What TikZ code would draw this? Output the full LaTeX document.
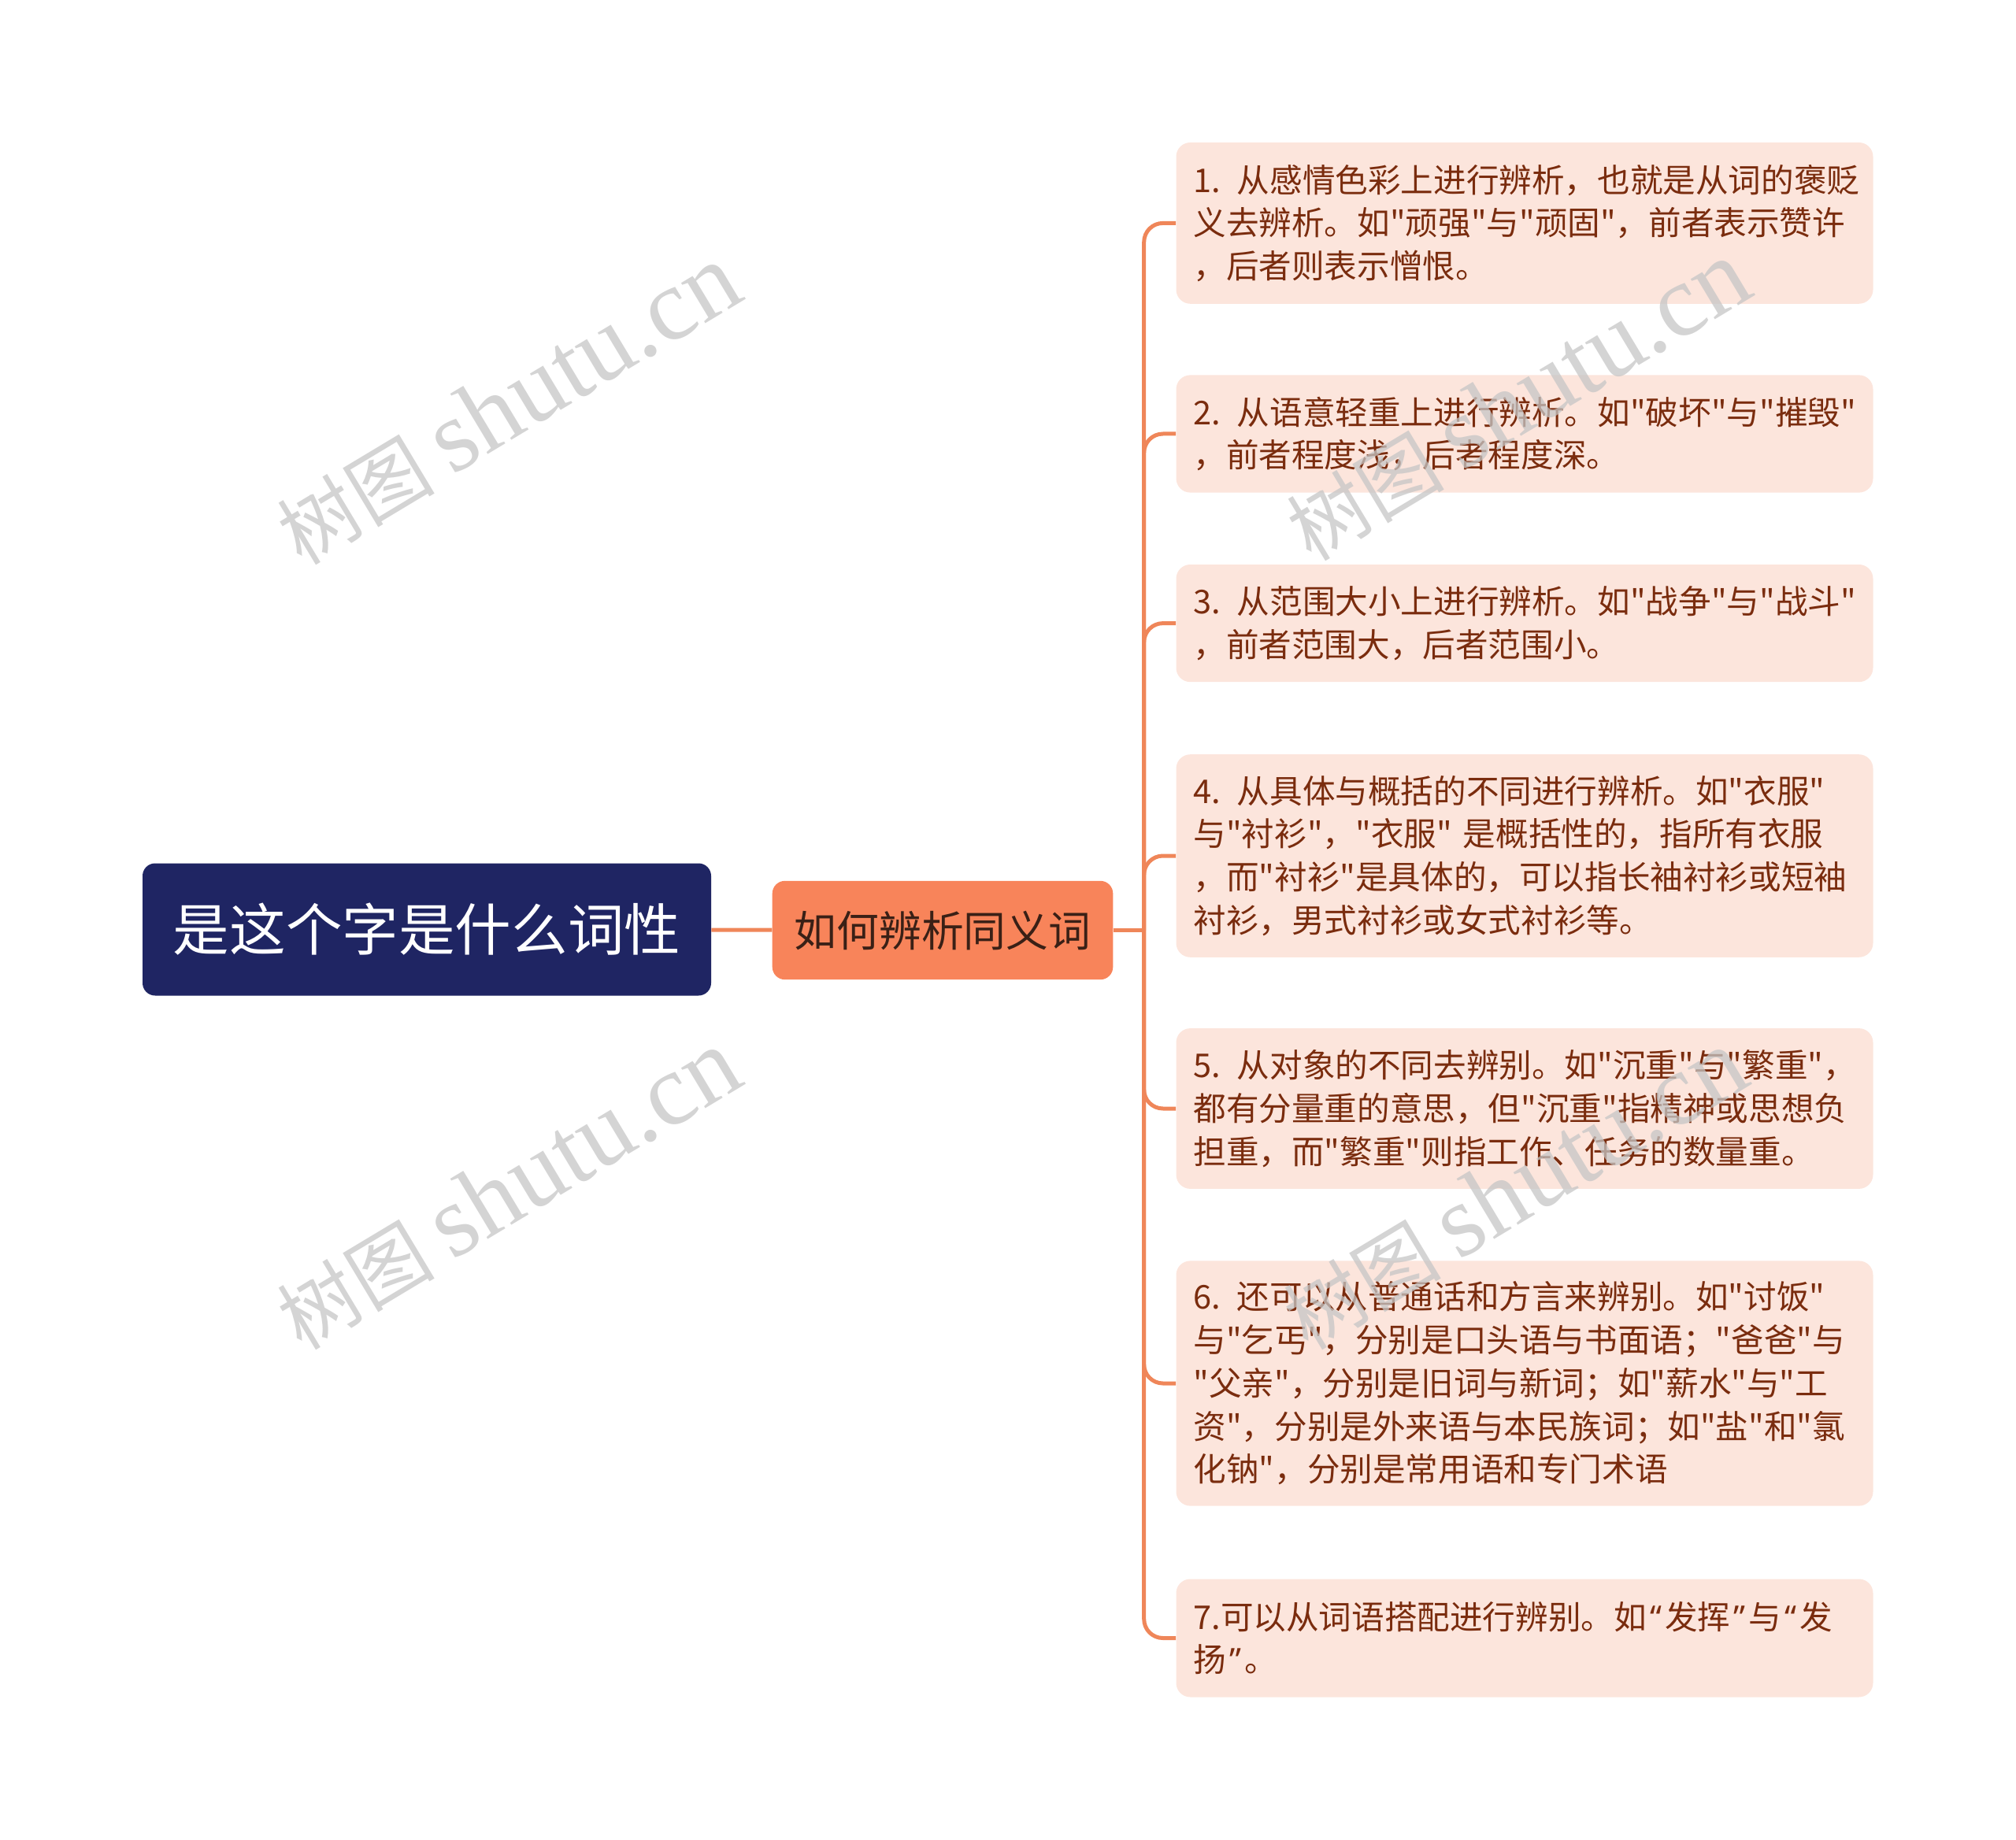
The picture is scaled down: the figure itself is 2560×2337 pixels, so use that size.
\documentclass[tikz,border=0pt]{standalone}
\usepackage{fontspec}
\newfontfamily\cjk{Noto Sans CJK SC}
\newfontfamily\lat{Noto Sans}
\newfontfamily\wmfont{Liberation Serif}
\usetikzlibrary{calc}
\definecolor{rootblue}{HTML}{1F2563}
\definecolor{topicorange}{HTML}{F8845A}
\definecolor{topictext}{HTML}{3A2016}
\definecolor{leaffill}{HTML}{FCE5DC}
\definecolor{leaftext}{HTML}{7A2C0E}
\definecolor{linecolor}{HTML}{EF8659}
\newcommand{\oq}{\hspace{0.1em}{\lat “}\hspace{0.1em}}
\newcommand{\cq}{\hspace{0.1em}{\lat ”}\hspace{0.1em}}
\tikzstyle{root} = [rectangle, rounded corners=8pt, fill=rootblue, text=white,
    minimum width=361pt, minimum height=84pt, font=\cjk\fontsize{35.8}{40}\selectfont]
\tikzstyle{topic} = [rectangle, rounded corners=8pt, fill=topicorange, text=topictext,
    minimum width=216.3pt, minimum height=62.7pt, font=\cjk\fontsize{26.9}{30}\selectfont]
\tikzstyle{leaf} = [rectangle, rounded corners=9pt, fill=leaffill, text=leaftext,
    text width=420.5pt, inner xsep=11pt, minimum width=442.5pt, align=left,
    font=\cjk\fontsize{20.8}{27.35}\selectfont]
\tikzstyle{line} = [draw, color=linecolor, line width=2.5pt]
\tikzstyle{wmark} = [text=gray!45, opacity=0.75, rotate=31, font=\cjk\fontsize{50}{60}\selectfont]

\begin{document}
\begin{tikzpicture}[x=0.5pt,y=-0.5pt]

    \useasboundingbox (0,0) rectangle (2560,2337);

    \node [root] (root) at (542,1180.5) {是这个字是什么词性};
    \node [topic] (topic) at (1197,1181.5) {如何辨析同义词};

    \node [leaf, minimum height=102.4pt] (b1) at (1936,283.4) {1. 从感情色彩上进行辨析，也就是从词的褒贬\\义去辨析。如"顽强"与"顽固"，前者表示赞许\\，后者则表示憎恨。};
    \node [leaf, minimum height=74.6pt] (b2) at (1936,551) {2. 从语意轻重上进行辨析。如"破坏"与"摧毁"\\，前者程度浅，后者程度深。};
    \node [leaf, minimum height=74.6pt] (b3) at (1936,791.6) {3. 从范围大小上进行辨析。如"战争"与"战斗"\\，前者范围大，后者范围小。};
    \node [leaf, minimum height=128.8pt] (b4) at (1936,1087) {4. 从具体与概括的不同进行辨析。如"衣服"\\与"衬衫"，"衣服"~是概括性的，指所有衣服\\，而"衬衫"是具体的，可以指长袖衬衫或短袖\\衬衫，男式衬衫或女式衬衫等。};
    \node [leaf, minimum height=101.9pt] (b5) at (1936,1408) {5. 从对象的不同去辨别。如"沉重"与"繁重"，\\都有分量重的意思，但"沉重"指精神或思想负\\担重，而"繁重"则指工作、任务的数量重。};
    \node [leaf, minimum height=155.6pt] (b6) at (1936,1757) {6. 还可以从普通话和方言来辨别。如"讨饭"\\与"乞丐"，分别是口头语与书面语；"爸爸"与\\"父亲"，分别是旧词与新词；如"薪水"与"工\\资"，分别是外来语与本民族词；如"盐"和"氯\\化钠"，分别是常用语和专门术语};
    \node [leaf, minimum height=75pt] (b7) at (1936,2080.5) {7.可以从词语搭配进行辨别。如\oq 发挥\cq 与\oq 发\\扬\cq 。};

    % Draw edges
    \path [line] (root) -- (topic);
    \coordinate (fork) at ($(topic.east)+(39,0)$);
    \path [line] (topic.east) -- (fork);
    \foreach \b in {b1,b2,b3,b4,b5,b6,b7}
        \path [line, rounded corners=12pt] (fork) |- (\b.west);

    % watermarks
    \node [wmark] (wm1) at (645,514) {树图 {\wmfont\fontsize{65}{60}\selectfont shutu.cn}};
    \node [wmark] (wm2) at (645,1511) {树图 {\wmfont\fontsize{65}{60}\selectfont shutu.cn}};
    \node [wmark] (wm3) at (1927,509) {树图 {\wmfont\fontsize{65}{60}\selectfont shutu.cn}};
    \node [wmark] (wm4) at (1923,1511) {树图 {\wmfont\fontsize{65}{60}\selectfont shutu.cn}};

\end{tikzpicture}
\end{document}
